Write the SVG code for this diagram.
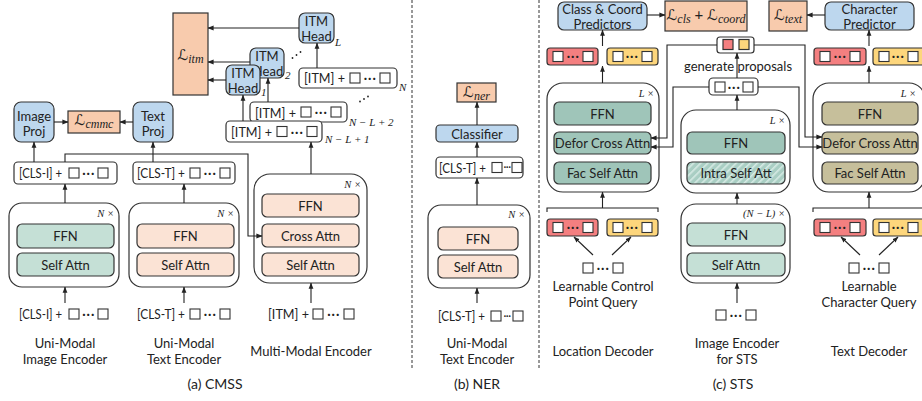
<svg xmlns="http://www.w3.org/2000/svg" width="922" height="401" viewBox="0 0 922 401">
<style>
text{font-family:Lato,"Noto Sans","Liberation Sans",sans-serif;font-size:13px;fill:#222}
.c{text-anchor:middle;dominant-baseline:central}
.s{text-anchor:start;dominant-baseline:central}
.cap{font-size:14px}
.n{font-family:"Liberation Serif",serif;font-style:italic;font-size:10.5px;text-anchor:end;dominant-baseline:central}
.sub{font-family:"Liberation Serif",serif;font-style:italic;font-size:11px}
.m{font-family:"DejaVu Serif","DejaVu Sans",serif;font-style:italic;font-size:15px}
.ms{font-family:"Liberation Serif",serif;font-style:italic;font-size:12px}
.box{stroke:#333;stroke-width:1.2}
.cont{fill:#fff;stroke:#333;stroke-width:1.2}
.tok{fill:#fff;stroke:#333;stroke-width:1.2}
.peach{fill:#f8cbad}
.blue{fill:#bdd7ee}
.tl{fill:#c5e0d6}
.td{fill:#9fc5b9}
.pk{fill:#fbe3d5}
.kh{fill:#c6bf9b}
.red{fill:#f47f80}
.yel{fill:#fdd67c}
.sq{fill:#fff;stroke:#333;stroke-width:1.1}
.ln{fill:none;stroke:#222;stroke-width:1.1}
.ar{fill:none;stroke:#222;stroke-width:1.1;marker-end:url(#ah)}
.dash{stroke:#333;stroke-width:1;stroke-dasharray:3 2}
.dot{font-size:15px;letter-spacing:0.5px}
.dots{font-size:11px;letter-spacing:-0.5px}
</style>
<defs>
<marker id="ah" viewBox="0 0 8 8" refX="7.5" refY="4" markerWidth="6" markerHeight="6" markerUnits="userSpaceOnUse" orient="auto"><path d="M0,0.8 L8,4 L0,7.2 z" fill="#222"/></marker>
<pattern id="hatch" width="5" height="5" patternUnits="userSpaceOnUse" patternTransform="rotate(45)"><rect width="5" height="5" fill="#a9cec3"/><rect width="1.6" height="5" fill="#d6eae4"/></pattern>
</defs>

<!-- separators -->
<line class="dash" x1="412" y1="0" x2="412" y2="370"/>
<line class="dash" x1="539" y1="0" x2="539" y2="368"/>

<!-- ========== (a) CMSS ========== -->
<g id="l-itm"><rect class="box peach" x="173" y="13" width="35" height="82"/><text x="190.5" y="60" text-anchor="middle"><tspan class="m">ℒ</tspan><tspan class="ms" dy="3">itm</tspan></text></g>
<g id="image-proj"><rect class="box blue" x="14" y="102" width="40" height="40" rx="7"/><text class="c" x="34" y="116">Image</text><text class="c" x="34" y="131">Proj</text></g>
<g id="l-cmmc"><rect class="box peach" x="68" y="111" width="52" height="22"/><text x="94" y="125" text-anchor="middle"><tspan class="m">ℒ</tspan><tspan class="ms" dy="3">cmmc</tspan></text></g>
<g id="text-proj"><rect class="box blue" x="133" y="102" width="40" height="40" rx="7"/><text class="c" x="153" y="116">Text</text><text class="c" x="153" y="131">Proj</text></g>

<g id="cls-i-out"><rect class="tok" x="14" y="162" width="103" height="22" rx="4"/><text class="s" x="19" y="173" textLength="43" lengthAdjust="spacingAndGlyphs">[CLS-I] +</text><rect class="sq" x="69" y="168" width="10" height="10"/><text class="c dot" x="88.5" y="172">···</text><rect class="sq" x="98" y="168" width="10" height="10"/></g>
<g id="cls-t-out"><rect class="tok" x="133" y="162" width="102" height="22" rx="4"/><text class="s" x="137" y="173" textLength="48" lengthAdjust="spacingAndGlyphs">[CLS-T] +</text><rect class="sq" x="190" y="168" width="10" height="10"/><text class="c dot" x="210" y="172">···</text><rect class="sq" x="220" y="168" width="10" height="10"/></g>

<g id="image-encoder"><rect class="cont" x="9" y="203" width="110" height="84" rx="13"/><text class="n" x="114" y="213">N ×</text><rect class="box tl" x="17" y="224" width="97" height="24" rx="5"/><text class="c" x="65.5" y="236">FFN</text><rect class="box tl" x="17" y="253" width="97" height="23" rx="5"/><text class="c" x="65.5" y="264.5">Self Attn</text></g>
<g id="text-encoder"><rect class="cont" x="129" y="203" width="110" height="84" rx="13"/><text class="n" x="234" y="213">N ×</text><rect class="box pk" x="137" y="224" width="97" height="24" rx="5"/><text class="c" x="185.5" y="236">FFN</text><rect class="box pk" x="137" y="253" width="97" height="23" rx="5"/><text class="c" x="185.5" y="264.5">Self Attn</text></g>
<g id="mm-encoder"><rect class="cont" x="254" y="174" width="113" height="109" rx="16"/><text class="n" x="361" y="184">N ×</text><rect class="box pk" x="262" y="194" width="97" height="23" rx="5"/><text class="c" x="310.5" y="205.5">FFN</text><rect class="box pk" x="262" y="224" width="97" height="23" rx="5"/><text class="c" x="310.5" y="235.5">Cross Attn</text><rect class="box pk" x="262" y="253" width="97" height="23" rx="5"/><text class="c" x="310.5" y="264.5">Self Attn</text></g>

<g id="cls-i-in"><text class="s" x="19" y="314" textLength="43" lengthAdjust="spacingAndGlyphs">[CLS-I] +</text><rect class="sq" x="69" y="309" width="10" height="10"/><text class="c dot" x="88.5" y="313">···</text><rect class="sq" x="98" y="309" width="10" height="10"/></g>
<g id="cls-t-in"><text class="s" x="137" y="314" textLength="48" lengthAdjust="spacingAndGlyphs">[CLS-T] +</text><rect class="sq" x="190" y="309" width="10" height="10"/><text class="c dot" x="210" y="313">···</text><rect class="sq" x="220" y="309" width="10" height="10"/></g>
<g id="itm-in"><text class="s" x="268" y="314" textLength="41" lengthAdjust="spacingAndGlyphs">[ITM] +</text><rect class="sq" x="313" y="309" width="10" height="10"/><text class="c dot" x="333.5" y="313">···</text><rect class="sq" x="344" y="309" width="10" height="10"/></g>

<g id="itm-n2"><rect class="tok" x="250" y="102" width="97" height="20" rx="4"/><text class="s" x="255" y="113" textLength="41" lengthAdjust="spacingAndGlyphs">[ITM] +</text><rect class="sq" x="301" y="107" width="10" height="10"/><text class="c dot" x="321" y="111">···</text><rect class="sq" x="331" y="107" width="10" height="10"/></g>
<g id="itm-n1"><rect class="tok" x="226" y="121" width="96" height="21" rx="4"/><text class="s" x="231" y="131.5" textLength="41" lengthAdjust="spacingAndGlyphs">[ITM] +</text><rect class="sq" x="277" y="126.5" width="10" height="10"/><text class="c dot" x="297" y="130.5">···</text><rect class="sq" x="307" y="126.5" width="10" height="10"/></g>
<g id="itm-n"><rect class="tok" x="299" y="68" width="98" height="20" rx="4"/><text class="s" x="304" y="78" textLength="41" lengthAdjust="spacingAndGlyphs">[ITM] +</text><rect class="sq" x="350" y="73" width="10" height="10"/><text class="c dot" x="370" y="77">···</text><rect class="sq" x="380" y="73" width="10" height="10"/></g>
<text class="sub" x="399" y="91">N</text>
<text class="sub" x="349" y="126">N − L + 2</text>
<text class="sub" x="325" y="143">N − L + 1</text>

<g id="itm-head-2"><rect class="box blue" x="250" y="48" width="34" height="30" rx="6"/><text class="c" x="267" y="56">ITM</text><text class="c" x="268" y="71">Head</text></g>
<g id="itm-head-1"><rect class="box blue" x="226" y="65" width="34" height="30" rx="6"/><text class="c" x="243" y="73">ITM</text><text class="c" x="243" y="88">Head</text></g>
<g id="itm-head-l"><rect class="box blue" x="299" y="13" width="35" height="30" rx="6"/><text class="c" x="316.5" y="21">ITM</text><text class="c" x="316.5" y="36">Head</text></g>
<text class="sub" x="335" y="46">L</text>
<text class="sub" x="285" y="79">2</text>
<text class="sub" x="261" y="96">1</text>
<g fill="#222"><circle cx="292.5" cy="58" r="0.9"/><circle cx="296.5" cy="55" r="0.9"/><circle cx="300.5" cy="52" r="0.9"/><circle cx="360" cy="101.5" r="0.9"/><circle cx="364" cy="99" r="0.9"/><circle cx="368" cy="96.5" r="0.9"/></g>

<text class="c" x="65" y="343">Uni-Modal</text><text class="c" x="65" y="359">Image Encoder</text>
<text class="c" x="184" y="343">Uni-Modal</text><text class="c" x="184" y="359">Text Encoder</text>
<text class="c" x="311" y="351">Multi-Modal Encoder</text>
<text class="c cap" x="215" y="383">(a) CMSS</text>

<!-- ========== (b) NER ========== -->
<g id="l-ner"><rect class="box peach" x="457" y="83" width="39" height="19"/><text x="476.5" y="97" text-anchor="middle"><tspan class="m">ℒ</tspan><tspan class="ms" dy="3">ner</tspan></text></g>
<g id="classifier"><rect class="box blue" x="436" y="125" width="82" height="17" rx="4"/><text class="c" x="477" y="133.5">Classifier</text></g>
<g id="ner-cls-out"><rect class="tok" x="436" y="157" width="87" height="21" rx="4"/><text class="s" x="439" y="167.5" textLength="47" lengthAdjust="spacingAndGlyphs">[CLS-T] +</text><rect class="sq" x="492" y="162.5" width="10" height="10"/><text class="c dots" x="507" y="166.5">···</text><rect class="sq" x="512" y="162.5" width="10" height="10"/></g>
<g id="ner-encoder"><rect class="cont" x="428" y="205" width="102" height="83" rx="13"/><text class="n" x="525" y="214">N ×</text><rect class="box pk" x="438" y="227" width="80" height="23" rx="5"/><text class="c" x="478" y="238.5">FFN</text><rect class="box pk" x="438" y="255" width="80" height="23" rx="5"/><text class="c" x="478" y="266.5">Self Attn</text></g>
<g id="ner-cls-in"><text class="s" x="438" y="316" textLength="47" lengthAdjust="spacingAndGlyphs">[CLS-T] +</text><rect class="sq" x="491" y="311" width="10" height="10"/><text class="c dots" x="507" y="315">···</text><rect class="sq" x="513" y="311" width="10" height="10"/></g>
<text class="c" x="477" y="343">Uni-Modal</text><text class="c" x="477" y="359">Text Encoder</text>
<text class="c cap" x="477" y="383">(b) NER</text>

<!-- ========== (c) STS ========== -->
<g id="class-coord"><rect class="box blue" x="558" y="2" width="89" height="28" rx="6"/><text class="c" x="602.5" y="8.5">Class &amp; Coord</text><text class="c" x="602.5" y="23.5">Predictors</text></g>
<g id="l-cls-coord"><rect class="box peach" x="665" y="1" width="82" height="30"/><text x="706" y="20" text-anchor="middle"><tspan class="m">ℒ</tspan><tspan class="ms" dy="3">cls</tspan><tspan dy="-3" font-size="15"> + </tspan><tspan class="m">ℒ</tspan><tspan class="ms" dy="3">coord</tspan></text></g>
<g id="l-text"><rect class="box peach" x="769" y="1" width="38" height="30"/><text x="788" y="20" text-anchor="middle"><tspan class="m">ℒ</tspan><tspan class="ms" dy="3">text</tspan></text></g>
<g id="char-pred"><rect class="box blue" x="825" y="2" width="89" height="28" rx="6"/><text class="c" x="869.5" y="8.5">Character</text><text class="c" x="869.5" y="23.5">Predictor</text></g>

<g id="loc-out"><rect class="box red" x="547" y="48" width="51" height="17" rx="3"/><rect class="sq" x="553" y="51.5" width="10" height="10"/><text class="c dot" x="573" y="55">···</text><rect class="sq" x="583" y="51.5" width="10" height="10"/><rect class="box yel" x="607" y="48" width="51" height="17" rx="3"/><rect class="sq" x="613" y="51.5" width="10" height="10"/><text class="c dot" x="632" y="55">···</text><rect class="sq" x="642" y="51.5" width="10" height="10"/></g>
<g id="loc-decoder"><rect class="cont" x="547" y="83" width="112" height="109" rx="16"/><text class="n" x="654" y="93">L ×</text><rect class="box td" x="554" y="102" width="97" height="23" rx="5"/><text class="c" x="602.5" y="113.5">FFN</text><rect class="box td" x="554" y="132" width="97" height="22" rx="5"/><text class="c" x="602.5" y="143">Defor Cross Attn</text><rect class="box td" x="554" y="162" width="97" height="22" rx="5"/><text class="c" x="602.5" y="173">Fac Self Attn</text></g>
<g id="loc-query"><rect class="box red" x="547" y="219" width="51" height="17" rx="3"/><rect class="sq" x="553" y="222.5" width="10" height="10"/><text class="c dot" x="573" y="226">···</text><rect class="sq" x="583" y="222.5" width="10" height="10"/><rect class="box yel" x="607" y="219" width="51" height="17" rx="3"/><rect class="sq" x="613" y="222.5" width="10" height="10"/><text class="c dot" x="632" y="226">···</text><rect class="sq" x="642" y="222.5" width="10" height="10"/></g>
<g id="loc-query-in"><rect class="sq" x="583" y="263" width="10" height="10"/><text class="c dot" x="603" y="267">···</text><rect class="sq" x="613" y="263" width="10" height="10"/></g>
<text class="c" x="603" y="286">Learnable Control</text><text class="c" x="603" y="302">Point Query</text>
<text class="c" x="603" y="351">Location Decoder</text>

<g id="proposals"><rect class="tok" x="717" y="37" width="37" height="16" rx="3"/><rect class="box red" x="723" y="39.5" width="10" height="10"/><rect class="box yel" x="739" y="39.5" width="10" height="10"/></g>
<text class="c" x="738" y="66">generate proposals</text>
<g id="enc-out"><rect class="tok" x="709" y="78" width="49" height="17" rx="4"/><rect class="sq" x="715" y="82" width="10" height="10"/><text class="c dot" x="734" y="85.5">···</text><rect class="sq" x="743" y="82" width="10" height="10"/></g>
<g id="intra-encoder"><rect class="cont" x="681" y="110" width="109" height="83" rx="15"/><text class="n" x="785" y="120">L ×</text><rect class="box td" x="687" y="132" width="98" height="22" rx="5"/><text class="c" x="736" y="143">FFN</text><rect class="box" fill="url(#hatch)" x="687" y="162" width="98" height="22" rx="5"/><text class="c" x="736" y="173">Intra Self Att</text></g>
<g id="img-encoder-sts"><rect class="cont" x="681" y="204" width="109" height="79" rx="15"/><text class="n" x="785" y="213">(N − L) ×</text><rect class="box tl" x="687" y="223" width="98" height="23" rx="5"/><text class="c" x="736" y="234.5">FFN</text><rect class="box tl" x="687" y="253" width="98" height="23" rx="5"/><text class="c" x="736" y="264.5">Self Attn</text></g>
<g id="img-in"><rect class="sq" x="716" y="310" width="10" height="10"/><text class="c dot" x="736" y="314">···</text><rect class="sq" x="746" y="310" width="10" height="10"/></g>
<text class="c" x="737" y="343">Image Encoder</text><text class="c" x="737" y="359">for STS</text>
<text class="c cap" x="733" y="383">(c) STS</text>

<g id="text-out"><rect class="box red" x="814" y="48" width="52" height="17" rx="3"/><rect class="sq" x="820" y="51.5" width="10" height="10"/><text class="c dot" x="840" y="55">···</text><rect class="sq" x="850" y="51.5" width="10" height="10"/><rect class="box yel" x="873" y="48" width="52" height="17" rx="3"/><rect class="sq" x="879" y="51.5" width="10" height="10"/><text class="c dot" x="898" y="55">···</text><rect class="sq" x="908" y="51.5" width="10" height="10"/></g>
<g id="text-decoder"><rect class="cont" x="813" y="83" width="112" height="109" rx="16"/><text class="n" x="916" y="93">L ×</text><rect class="box kh" x="822" y="102" width="96" height="23" rx="5"/><text class="c" x="870" y="113.5">FFN</text><rect class="box kh" x="822" y="132" width="96" height="22" rx="5"/><text class="c" x="870" y="143">Defor Cross Attn</text><rect class="box kh" x="822" y="162" width="96" height="22" rx="5"/><text class="c" x="870" y="173">Fac Self Attn</text></g>
<g id="text-query"><rect class="box red" x="814" y="219" width="52" height="17" rx="3"/><rect class="sq" x="820" y="222.5" width="10" height="10"/><text class="c dot" x="840" y="226">···</text><rect class="sq" x="850" y="222.5" width="10" height="10"/><rect class="box yel" x="873" y="219" width="52" height="17" rx="3"/><rect class="sq" x="879" y="222.5" width="10" height="10"/><text class="c dot" x="898" y="226">···</text><rect class="sq" x="908" y="222.5" width="10" height="10"/></g>
<g id="text-query-in"><rect class="sq" x="849" y="263" width="10" height="10"/><text class="c dot" x="869" y="267">···</text><rect class="sq" x="879" y="263" width="10" height="10"/></g>
<text class="c" x="869" y="286">Learnable</text><text class="c" x="869" y="302">Character Query</text>
<text class="c" x="869" y="351">Text Decoder</text>

<!-- ========== connectors ========== -->
<g id="connectors">
<path class="ar" d="M54,122 H68"/>
<path class="ar" d="M133,122 H120"/>
<path class="ar" d="M34,162 V142"/>
<path class="ar" d="M153,162 V142"/>
<path class="ar" d="M65,162 V154 H248 V236 H262"/>
<path class="ar" d="M65,203 V184"/>
<path class="ar" d="M65,303 V287"/>
<path class="ar" d="M184,203 V184"/>
<path class="ar" d="M184,303 V287"/>
<path class="ar" d="M311,303 V283"/>
<path class="ar" d="M311,174 V142"/>
<path class="ar" d="M243,121 V95"/>
<path class="ar" d="M268,102 V78"/>
<path class="ar" d="M317,68 V43"/>
<path class="ar" d="M299,28 H208"/>
<path class="ar" d="M250,62 H208"/>
<path class="ar" d="M226,80 H208"/>
<path class="ar" d="M477,125 V102"/>
<path class="ar" d="M477,157 V142"/>
<path class="ar" d="M477,205 V178"/>
<path class="ar" d="M477,303 V288"/>
<path class="ar" d="M647,15 H665"/>
<path class="ar" d="M825,15 H807"/>
<path class="ar" d="M602.5,46 V30"/>
<path class="ar" d="M602.5,83 V66"/>
<path class="ln" d="M547,212 V208 H658 V212"/>
<path class="ar" d="M602.5,208 V192"/>
<path class="ar" d="M593,255 L574,237"/>
<path class="ar" d="M612,255 L631,237"/>
<path class="ar" d="M737,78 V53"/>
<path class="ar" d="M737,110 V95"/>
<path class="ar" d="M737,204 V193"/>
<path class="ar" d="M737,303 V283"/>
<path class="ar" d="M717,45 H667 V138 H651"/>
<path class="ar" d="M709,87 H673 V147 H651"/>
<path class="ar" d="M754,45 H805 V137 H822"/>
<path class="ar" d="M758,87 H799 V147 H822"/>
<path class="ar" d="M869,46 V30"/>
<path class="ar" d="M869,83 V66"/>
<path class="ln" d="M813,212 V208 H925"/>
<path class="ar" d="M869,208 V192"/>
<path class="ar" d="M860,255 L841,237"/>
<path class="ar" d="M879,255 L898,237"/>
</g>
</svg>
